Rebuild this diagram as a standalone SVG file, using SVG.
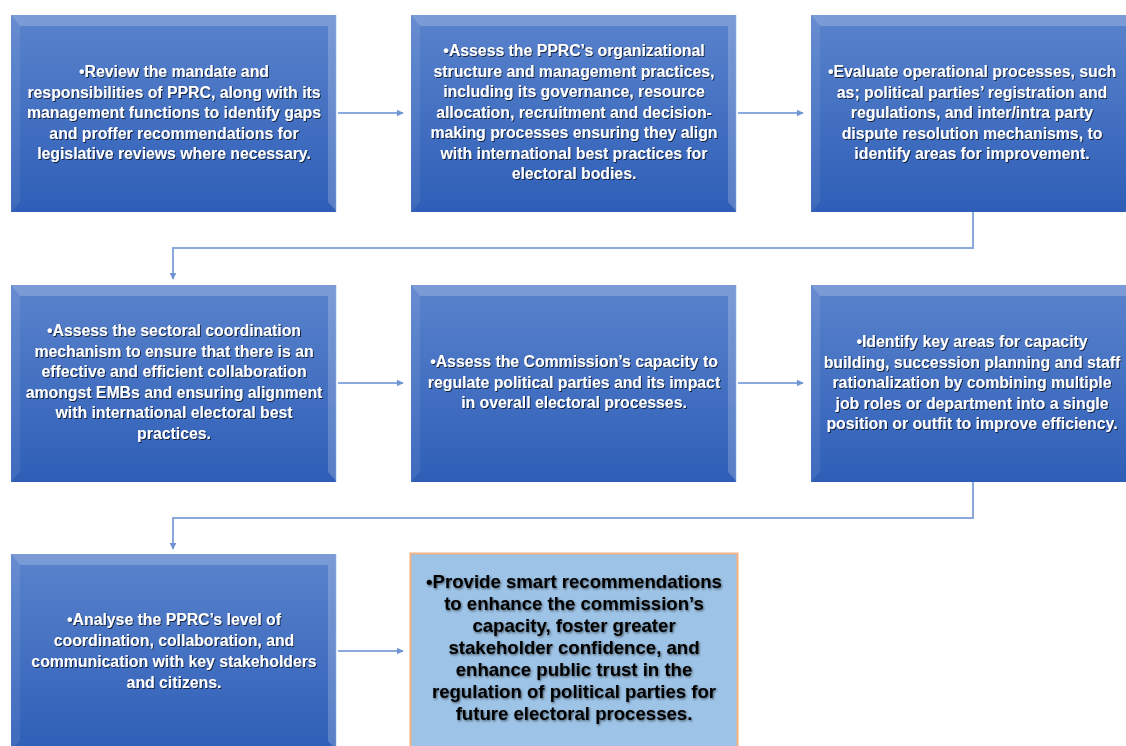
<svg xmlns="http://www.w3.org/2000/svg" width="1126" height="746" viewBox="0 0 1126 746">
<defs>
<linearGradient id="g" x1="0" y1="0" x2="0" y2="1">
<stop offset="0" stop-color="#5A83CC"/>
<stop offset="1" stop-color="#2E5EB7"/>
</linearGradient>
<filter id="sh" x="-5%" y="-5%" width="110%" height="110%">
<feDropShadow dx="1" dy="1" stdDeviation="0.6" flood-color="#000" flood-opacity="0.7"/>
</filter>
<filter id="shd" x="-5%" y="-5%" width="110%" height="110%">
<feDropShadow dx="1" dy="1.2" stdDeviation="0.8" flood-color="#000" flood-opacity="0.55"/>
</filter>
<marker id="ah" viewBox="0 0 10 10" refX="9" refY="5" markerWidth="3.6" markerHeight="3.6" orient="auto">
<path d="M0,0 L10,5 L0,10 z" fill="#6F93D3"/>
</marker>
<g id="bev">
<rect x="0" y="0" width="326" height="197" fill="url(#g)"/>
<polygon points="0,0 326,0 317,11 9,11" fill="#FFFFFF" fill-opacity="0.2"/>
<polygon points="0,0 9,11 9,187 0,197" fill="#FFFFFF" fill-opacity="0.08"/>
<polygon points="326,0 317,11 317,187 326,197" fill="#FFFFFF" fill-opacity="0.2"/>
<line x1="325.5" y1="0" x2="325.5" y2="197" stroke="#DDE8F8" stroke-width="1.2"/>
</g>
</defs>
<style>
.t{font-family:"Liberation Sans",Arial,sans-serif;font-weight:bold;font-size:15.8px;fill:#FFFFFF;text-anchor:middle;filter:url(#sh)}
.tb{font-family:"Liberation Sans",Arial,sans-serif;font-weight:bold;font-size:18.6px;fill:#000000;text-anchor:middle;filter:url(#shd)}
.c{fill:none;stroke:#8BA9DD;stroke-width:2}
</style>
<rect width="1126" height="746" fill="#FFFFFF"/>
<g id="connectors">
<line class="c" x1="338" y1="113" x2="403" y2="113" marker-end="url(#ah)"/>
<line class="c" x1="738" y1="113" x2="803" y2="113" marker-end="url(#ah)"/>
<polyline class="c" points="973,212 973,248 173,248 173,279" marker-end="url(#ah)"/>
<line class="c" x1="338" y1="383" x2="403" y2="383" marker-end="url(#ah)"/>
<line class="c" x1="738" y1="383" x2="803" y2="383" marker-end="url(#ah)"/>
<polyline class="c" points="973,481 973,518 173,518 173,549" marker-end="url(#ah)"/>
<line class="c" x1="338" y1="651" x2="403" y2="651" marker-end="url(#ah)"/>
</g>
<g id="n1">
<use href="#bev" x="11" y="15"/>
<text class="t" x="174"><tspan x="174" y="77">•Review the mandate and</tspan><tspan x="174" y="97.5">responsibilities of PPRC, along with its</tspan><tspan x="174" y="118">management functions to identify gaps</tspan><tspan x="174" y="138.5">and proffer recommendations for</tspan><tspan x="174" y="159">legislative reviews where necessary.</tspan></text>
</g>
<g id="n2">
<use href="#bev" x="411" y="15"/>
<text class="t"><tspan x="574" y="56">•Assess the PPRC’s organizational</tspan><tspan x="574" y="76.5">structure and management practices,</tspan><tspan x="574" y="97">including its governance, resource</tspan><tspan x="574" y="117.5">allocation, recruitment and decision-</tspan><tspan x="574" y="138">making processes ensuring they align</tspan><tspan x="574" y="158.5">with international best practices for</tspan><tspan x="574" y="179">electoral bodies.</tspan></text>
</g>
<g id="n3">
<use href="#bev" x="811" y="15"/>
<text class="t"><tspan x="972" y="77">•Evaluate operational processes, such</tspan><tspan x="972" y="97.5">as; political parties’ registration and</tspan><tspan x="972" y="118">regulations, and inter/intra party</tspan><tspan x="972" y="138.5">dispute resolution mechanisms, to</tspan><tspan x="972" y="159">identify areas for improvement.</tspan></text>
</g>
<g id="n4">
<use href="#bev" x="11" y="285"/>
<text class="t"><tspan x="174" y="336">•Assess the sectoral coordination</tspan><tspan x="174" y="356.5">mechanism to ensure that there is an</tspan><tspan x="174" y="377">effective and efficient collaboration</tspan><tspan x="174" y="397.5">amongst EMBs and ensuring alignment</tspan><tspan x="174" y="418">with international electoral best</tspan><tspan x="174" y="438.5">practices.</tspan></text>
</g>
<g id="n5">
<use href="#bev" x="411" y="285"/>
<text class="t"><tspan x="574" y="367">•Assess the Commission’s capacity to</tspan><tspan x="574" y="387.5">regulate political parties and its impact</tspan><tspan x="574" y="408">in overall electoral processes.</tspan></text>
</g>
<g id="n6">
<use href="#bev" x="811" y="285"/>
<text class="t"><tspan x="972" y="347">•Identify key areas for capacity</tspan><tspan x="972" y="367.5">building, succession planning and staff</tspan><tspan x="972" y="388">rationalization by combining multiple</tspan><tspan x="972" y="408.5">job roles or department into a single</tspan><tspan x="972" y="429">position or outfit to improve efficiency.</tspan></text>
</g>
<g id="n7">
<use href="#bev" x="11" y="554"/>
<text class="t"><tspan x="174" y="625">•Analyse the PPRC’s level of</tspan><tspan x="174" y="646">coordination, collaboration, and</tspan><tspan x="174" y="667">communication with key stakeholders</tspan><tspan x="174" y="688">and citizens.</tspan></text>
</g>
<g id="n8">
<rect x="410.5" y="553.5" width="327" height="200" fill="#9DC3E6" stroke="#F4B183" stroke-width="2"/>
<text class="tb"><tspan x="574" y="588">•Provide smart recommendations</tspan><tspan x="574" y="610">to enhance the commission’s</tspan><tspan x="574" y="632">capacity, foster greater</tspan><tspan x="574" y="654">stakeholder confidence, and</tspan><tspan x="574" y="676">enhance public trust in the</tspan><tspan x="574" y="698">regulation of political parties for</tspan><tspan x="574" y="720">future electoral processes.</tspan></text>
</g>
</svg>
